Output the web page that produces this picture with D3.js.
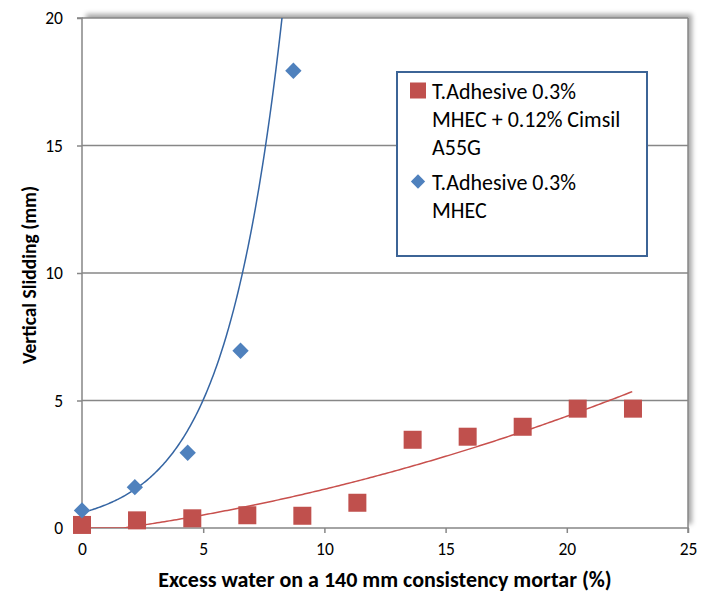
<!DOCTYPE html>
<html>
<head>
<meta charset="utf-8">
<script src="https://cdn.jsdelivr.net/npm/d3@7"></script>
<style>
  html, body { margin: 0; padding: 0; background: #ffffff; }
  svg { display: block; }
  text { font-family: Carlito, Calibri, Lato, "Noto Sans", sans-serif; fill: #000; }
</style>
</head>
<body>
<svg id="chart" width="715" height="606"></svg>
<script>
// ---- data ----
const redLabel = ["T.Adhesive 0.3%", "MHEC + 0.12% Cimsil", "A55G"];
const blueLabel = ["T.Adhesive 0.3%", "MHEC"];
const redX = [0, 2.27, 4.55, 6.82, 9.09, 11.36, 13.64, 15.91, 18.18, 20.45, 22.73];
const redY = [0.12, 0.3, 0.38, 0.5, 0.48, 0.99, 3.46, 3.58, 3.97, 4.68, 4.68];
const blueX = [0, 2.18, 4.36, 6.54, 8.72];
const blueY = [0.69, 1.6, 2.95, 6.95, 17.93];
// trendlines (Excel): blue exponential y = a*e^(b x), red 2nd-order polynomial c0 + c1 x + c2 x^2
const blueTrend = [0.6, 0.425];
const redTrend = [-0.2155, 0.1172, 0.005635];
const xTicks = [0, 5, 10, 15, 20, 25];
const yTicks = [0, 5, 10, 15, 20];
const xTitle = "Excess water on a 140 mm consistency mortar (%)";
const yTitle = "Vertical Slidding (mm)";

// ---- layout ----
const svg = d3.select("#chart");
const L = 82, R = 688, T = 18, B = 528;
const x = d3.scaleLinear().domain([0, 25]).range([L, R]);
const y = d3.scaleLinear().domain([0, 20]).range([B, T]);
const gridColor = "#878787";
const redColor = "#c0504d", blueColor = "#4f81bd";

const defs = svg.append("defs");
const f = defs.append("filter").attr("id", "shadow")
  .attr("x", "-5%").attr("y", "-5%").attr("width", "110%").attr("height", "110%");
f.append("feDropShadow").attr("dx", 4).attr("dy", -4).attr("stdDeviation", 2.5)
  .attr("flood-color", "#000").attr("flood-opacity", 0.35);
defs.append("clipPath").attr("id", "plotclip").append("rect")
  .attr("x", L).attr("y", T).attr("width", R - L).attr("height", B - T);

// plot area with shadow
svg.append("rect").attr("x", L).attr("y", T).attr("width", R - L).attr("height", B - T)
  .attr("fill", "#fff").attr("filter", "url(#shadow)");

// gridlines
svg.append("g").selectAll("line").data(yTicks.filter(d => d > 0)).join("line")
  .attr("x1", L).attr("x2", R).attr("y1", d => y(d)).attr("y2", d => y(d))
  .attr("stroke", gridColor).attr("stroke-width", 1.5);
// right border
svg.append("line").attr("x1", R).attr("x2", R).attr("y1", T).attr("y2", B)
  .attr("stroke", gridColor).attr("stroke-width", 1.5);

// axes
const yAxis = d3.axisLeft(y).tickValues(yTicks).tickSize(5).tickPadding(14).tickFormat(d3.format("d"));
const xAxis = d3.axisBottom(x).tickValues(xTicks).tickSize(5).tickPadding(10).tickFormat(d3.format("d"));
const gy = svg.append("g").attr("transform", `translate(${L},0)`).call(yAxis);
const gx = svg.append("g").attr("transform", `translate(0,${B})`).call(xAxis);
[gx, gy].forEach(g => {
  g.select(".domain").attr("stroke", gridColor).attr("stroke-width", 1.5);
  g.selectAll(".tick line").attr("stroke", gridColor).attr("stroke-width", 1.5);
  g.selectAll(".tick text").attr("font-family", "Carlito, Calibri, Lato, sans-serif")
    .attr("font-size", 17.5).attr("fill", "#000");
});
gy.select(".domain").attr("d", `M-5,${B}H0V${T}H-5`);
gx.select(".domain").attr("d", `M${L},5V0H${R}V5`);

// trendlines
const plot = svg.append("g").attr("clip-path", "url(#plotclip)");
const blueFn = v => blueTrend[0] * Math.exp(blueTrend[1] * v);
const redFn = v => Math.max(0, redTrend[0] + redTrend[1] * v + redTrend[2] * v * v);
const blueXs = d3.range(0, 8.6, 0.05);
const redXs = d3.range(0, redX[redX.length - 1] + 0.001, 0.1);
const line = d3.line().x(d => x(d[0])).y(d => y(d[1]));
plot.append("path").datum(blueXs.map(v => [v, Math.min(blueFn(v), 21)]))
  .attr("d", line).attr("fill", "none").attr("stroke", "#3565a3").attr("stroke-width", 1.5);
plot.append("path").datum(redXs.map(v => [v, redFn(v)]))
  .attr("d", line).attr("fill", "none").attr("stroke", "#c8504d").attr("stroke-width", 1.5);

// markers
const sq = 18;
svg.append("g").selectAll("rect").data(redX.map((v, i) => [v, redY[i]])).join("rect")
  .attr("x", d => x(d[0]) - sq / 2).attr("y", d => y(d[1]) - sq / 2)
  .attr("width", sq).attr("height", sq).attr("fill", redColor);
const diamond = d3.symbol().type(d3.symbolDiamond2).size(170);
svg.append("g").selectAll("path").data(blueX.map((v, i) => [v, blueY[i]])).join("path")
  .attr("transform", d => `translate(${x(d[0])},${y(d[1])})`)
  .attr("d", diamond).attr("fill", blueColor);

// axis titles
svg.append("text").attr("x", (L + R) / 2).attr("y", 587).attr("text-anchor", "middle")
  .attr("font-weight", "bold").attr("font-size", 22).text(xTitle);
svg.append("text").attr("transform", `translate(36,${275}) rotate(-90)`).attr("text-anchor", "middle")
  .attr("font-weight", "bold").attr("font-size", 19.5).text(yTitle);

// legend
const lg = svg.append("g");
lg.append("rect").attr("x", 397).attr("y", 72).attr("width", 250).attr("height", 184)
  .attr("fill", "#fff").attr("stroke", "#3c6496").attr("stroke-width", 2);
lg.append("rect").attr("x", 410).attr("y", 82.5).attr("width", 16).attr("height", 16).attr("fill", redColor);
lg.append("path").attr("transform", "translate(418,181.5)")
  .attr("d", d3.symbol().type(d3.symbolDiamond2).size(130)).attr("fill", blueColor);
const lineH = 28;
lg.selectAll("text.r").data(redLabel).join("text").attr("class", "r")
  .attr("x", 432).attr("y", (d, i) => 98.5 + i * lineH).attr("font-size", 22).text(d => d);
lg.selectAll("text.b").data(blueLabel).join("text").attr("class", "b")
  .attr("x", 432).attr("y", (d, i) => 189.5 + i * lineH).attr("font-size", 22).text(d => d);
</script>
</body>
</html>
